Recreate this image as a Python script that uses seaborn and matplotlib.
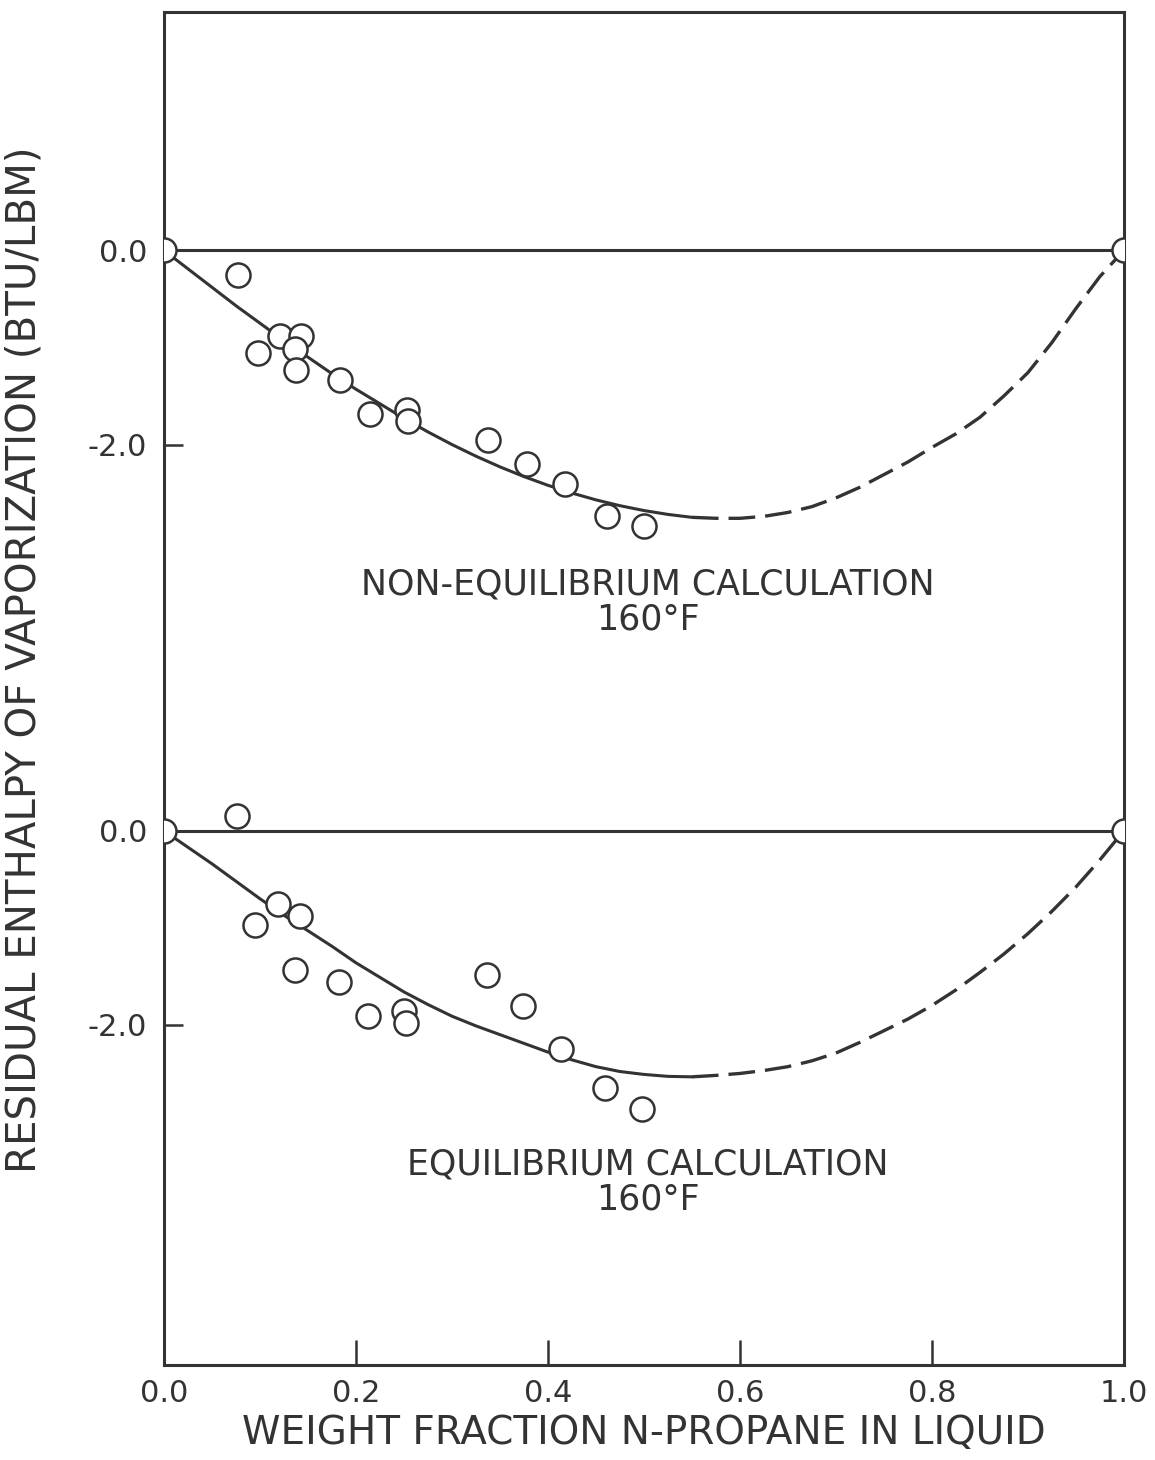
import matplotlib
matplotlib.use("Agg")
import matplotlib.pyplot as plt
import seaborn as sns
import pandas as pd

# residual enthalpy of vaporization, n-propane, 160 F
# upper panel: non-equilibrium calculation
non_eq_x = [0.077, 0.098, 0.121, 0.143, 0.136, 0.138, 0.183, 0.215, 0.253, 0.254,
            0.338, 0.378, 0.418, 0.462, 0.500]
non_eq_y = [-0.25, -1.06, -0.88, -0.88, -1.02, -1.23, -1.33, -1.69, -1.64, -1.76,
            -1.95, -2.20, -2.41, -2.74, -2.84]

non_eq_curve_x = [0.0, 0.025, 0.05, 0.075, 0.1, 0.125, 0.15, 0.175, 0.2, 0.225, 0.25, 0.275,
                  0.3, 0.325, 0.35, 0.375, 0.4, 0.425, 0.45, 0.475, 0.5, 0.525, 0.55]
non_eq_curve_y = [0.0, -0.19, -0.38, -0.57, -0.75, -0.93, -1.10, -1.27, -1.43, -1.58, -1.73, -1.87,
                  -2.00, -2.12, -2.23, -2.33, -2.42, -2.50, -2.57, -2.63, -2.68, -2.72, -2.75]
non_eq_dash_x = [0.55, 0.575, 0.6, 0.625, 0.65, 0.675, 0.7, 0.725, 0.75, 0.775, 0.8, 0.825,
                 0.85, 0.875, 0.9, 0.925, 0.95, 0.975, 1.0]
non_eq_dash_y = [-2.75, -2.76, -2.76, -2.74, -2.70, -2.64, -2.55, -2.44, -2.31, -2.18, -2.03, -1.89,
                 -1.72, -1.50, -1.26, -0.95, -0.60, -0.27, 0.0]

# lower panel: equilibrium calculation
eq_x = [0.076, 0.095, 0.119, 0.142, 0.136, 0.182, 0.213, 0.250, 0.252, 0.336,
        0.374, 0.414, 0.459, 0.498]
eq_y = [0.15, -0.97, -0.75, -0.88, -1.43, -1.56, -1.91, -1.86, -1.98, -1.49,
        -1.81, -2.25, -2.65, -2.87]

eq_curve_x = [0.0, 0.025, 0.05, 0.075, 0.1, 0.125, 0.15, 0.175, 0.2, 0.225, 0.25, 0.275,
              0.3, 0.325, 0.35, 0.375, 0.4, 0.425, 0.45, 0.475, 0.5, 0.525, 0.55]
eq_curve_y = [0.0, -0.17, -0.34, -0.52, -0.70, -0.87, -1.03, -1.19, -1.36, -1.51, -1.66, -1.79,
              -1.91, -2.01, -2.10, -2.19, -2.28, -2.36, -2.43, -2.48, -2.51, -2.53, -2.535]
eq_dash_x = [0.55, 0.575, 0.6, 0.625, 0.65, 0.675, 0.7, 0.725, 0.75, 0.775, 0.8, 0.825,
             0.85, 0.875, 0.9, 0.925, 0.95, 0.975, 1.0]
eq_dash_y = [-2.535, -2.52, -2.50, -2.47, -2.43, -2.37, -2.29, -2.18, -2.06, -1.94, -1.80, -1.64,
             -1.46, -1.27, -1.06, -0.83, -0.58, -0.30, 0.0]

end_x = [0.0, 1.0]
end_y = [0.0, 0.0]

# the lower panel sits 5.98 units below the upper one on the same axis
offset = -5.98
panel_labels = ["NON-EQUILIBRIUM CALCULATION\n160°F", "EQUILIBRIUM CALCULATION\n160°F"]
ytick_labels = ["0.0", "-2.0", "0.0", "-2.0"]

ink = "#333333"

sns.set_theme(style="white")
plt.rcParams["font.family"] = ["DejaVu Sans"]
plt.rcParams["text.color"] = ink

fig = plt.figure(figsize=(11.55, 14.6), dpi=100)
ax = fig.add_axes([0.142, 0.065, 0.831, 0.927])

panels = [
    (non_eq_x, non_eq_y, non_eq_curve_x, non_eq_curve_y, non_eq_dash_x, non_eq_dash_y, 0.0),
    (eq_x, eq_y, eq_curve_x, eq_curve_y, eq_dash_x, eq_dash_y, offset),
]

for i, (px, py, cx, cy, dx, dy, off) in enumerate(panels):
    # zero line
    ax.axhline(off, color=ink, lw=2.2, zorder=1)
    # fitted curve, solid then dashed
    solid = pd.DataFrame({"x": cx, "y": [v + off for v in cy]})
    sns.lineplot(data=solid, x="x", y="y", ax=ax, color=ink, lw=2.2,
                 sort=False, estimator=None, zorder=2)
    dashed = pd.DataFrame({"x": dx, "y": [v + off for v in dy]})
    sns.lineplot(data=dashed, x="x", y="y", ax=ax, color=ink, lw=2.4,
                 sort=False, estimator=None, zorder=2, linestyle=(0, (8, 3)))
    # measured points
    pts = pd.DataFrame({"x": px, "y": [v + off for v in py]})
    sns.scatterplot(data=pts, x="x", y="y", ax=ax, marker="o", s=300,
                    facecolor="white", edgecolor=ink, linewidth=1.8, zorder=3)
    ends = pd.DataFrame({"x": end_x, "y": [v + off for v in end_y]})
    sns.scatterplot(data=ends, x="x", y="y", ax=ax, marker="o", s=300,
                    facecolor="white", edgecolor=ink, linewidth=1.8, zorder=3)
    ax.text(0.504, -3.62 + off, panel_labels[i], ha="center", va="center",
            fontsize=25, linespacing=1.05, color=ink)

ax.set_xlim(0, 1)
ax.set_ylim(-11.485, 2.46)
ax.set_xticks([0.0, 0.2, 0.4, 0.6, 0.8, 1.0])
ax.set_xticklabels(["0.0", "0.2", "0.4", "0.6", "0.8", "1.0"])
ax.set_yticks([0.0, -2.0, offset, offset - 2.0])
ax.set_yticklabels(ytick_labels)

ax.tick_params(axis="x", direction="in", length=18, width=1.8, color=ink,
               labelsize=22, labelcolor=ink, pad=10, bottom=True)
ax.tick_params(axis="y", direction="in", length=14, width=1.8, color=ink,
               labelsize=22, labelcolor=ink, pad=12, left=True)

for side in ax.spines.values():
    side.set_color(ink)
    side.set_linewidth(2.2)

ax.set_xlabel("WEIGHT FRACTION N-PROPANE IN LIQUID", fontsize=28, color=ink, labelpad=4)
ax.set_ylabel("RESIDUAL ENTHALPY OF VAPORIZATION (BTU/LBM)", fontsize=29, color=ink)
ax.yaxis.set_label_coords(-0.125, 0.521)

fig.savefig("out.png", dpi=100)
